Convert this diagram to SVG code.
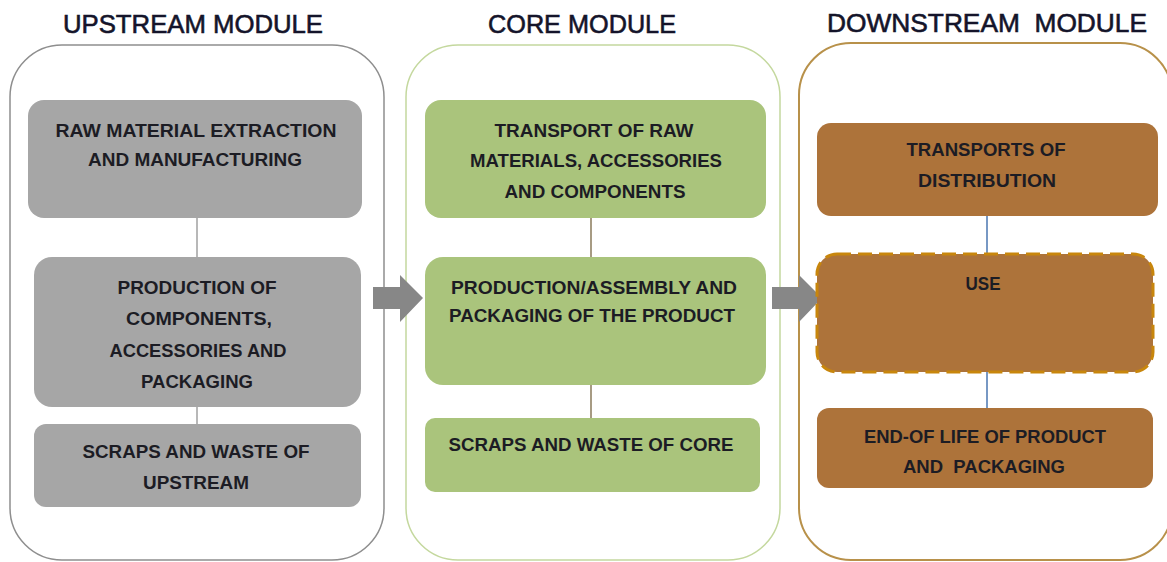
<svg xmlns="http://www.w3.org/2000/svg" width="1167" height="562" viewBox="0 0 1167 562">
<style>
.title{font-family:"Liberation Sans",Arial,sans-serif;font-size:26px;fill:#14142a;stroke:#14142a;stroke-width:0.6;text-anchor:middle}
.t{font-family:"Liberation Sans",Arial,sans-serif;font-size:18px;font-weight:bold;fill:#1c1c24;text-anchor:middle}
.gray{fill:#a6a6a6}
.green{fill:#aac47c}
.brown{fill:#ad733a}
.arrow{fill:#878787}
</style>
<rect width="1167" height="562" fill="#ffffff"/>
<g id="modules">
<rect id="upstream-module" x="10" y="45" width="374" height="515" rx="52" fill="none" stroke="#8e8e8e" stroke-width="1.5"/>
<rect id="core-module" x="406" y="45" width="374" height="515" rx="52" fill="none" stroke="#c4d89e" stroke-width="1.5"/>
<rect id="downstream-module" x="799" y="43" width="373" height="517" rx="52" fill="none" stroke="#b8914a" stroke-width="2"/>
<text class="title" x="193" y="33" textLength="260" lengthAdjust="spacingAndGlyphs">UPSTREAM MODULE</text>
<text class="title" x="582" y="33" textLength="188" lengthAdjust="spacingAndGlyphs">CORE MODULE</text>
<text class="title" x="987" y="32" textLength="320" lengthAdjust="spacingAndGlyphs" xml:space="preserve">DOWNSTREAM  MODULE</text>
</g>
<g id="connectors">
<line x1="197" y1="218" x2="197" y2="257" stroke="#a0a0a0" stroke-width="1.5"/>
<line x1="197" y1="407" x2="197" y2="424" stroke="#a0a0a0" stroke-width="1.5"/>
<line x1="591" y1="218" x2="591" y2="257" stroke="#8a7a5a" stroke-width="1.5"/>
<line x1="591" y1="385" x2="591" y2="418" stroke="#8a7a5a" stroke-width="1.5"/>
<line x1="987" y1="216" x2="987" y2="253" stroke="#4a76b0" stroke-width="1.5"/>
<line x1="987" y1="372" x2="987" y2="408" stroke="#4a76b0" stroke-width="1.5"/>
<polygon class="arrow" points="373,287 400,287 400,275 423,298 400,322 400,309 373,309"/>
<polygon class="arrow" points="772,287 799,287 799,275 822,298 799,322 799,309 772,309"/>
</g>
<g id="raw-material">
<rect class="gray" x="28" y="100" width="334" height="118" rx="16"/>
<text class="t" x="196" y="137" textLength="281" lengthAdjust="spacingAndGlyphs">RAW MATERIAL EXTRACTION</text>
<text class="t" x="195" y="166" textLength="214" lengthAdjust="spacingAndGlyphs">AND MANUFACTURING</text>
</g>
<g id="production-components">
<rect class="gray" x="34" y="257" width="327" height="150" rx="18"/>
<text class="t" x="197" y="294" textLength="159" lengthAdjust="spacingAndGlyphs">PRODUCTION OF</text>
<text class="t" x="199" y="325" textLength="146" lengthAdjust="spacingAndGlyphs">COMPONENTS,</text>
<text class="t" x="198" y="357" textLength="177" lengthAdjust="spacingAndGlyphs">ACCESSORIES AND</text>
<text class="t" x="197" y="388" textLength="112" lengthAdjust="spacingAndGlyphs">PACKAGING</text>
</g>
<g id="scraps-upstream">
<rect class="gray" x="34" y="424" width="327" height="83" rx="12"/>
<text class="t" x="196" y="458" textLength="227" lengthAdjust="spacingAndGlyphs">SCRAPS AND WASTE OF</text>
<text class="t" x="196" y="489" textLength="106" lengthAdjust="spacingAndGlyphs">UPSTREAM</text>
</g>
<g id="transport-raw">
<rect class="green" x="425" y="100" width="341" height="118" rx="16"/>
<text class="t" x="594" y="137" textLength="199" lengthAdjust="spacingAndGlyphs">TRANSPORT OF RAW</text>
<text class="t" x="596" y="167" textLength="252" lengthAdjust="spacingAndGlyphs">MATERIALS, ACCESSORIES</text>
<text class="t" x="595" y="198" textLength="181" lengthAdjust="spacingAndGlyphs">AND COMPONENTS</text>
</g>
<g id="production-assembly">
<rect class="green" x="425" y="257" width="341" height="128" rx="18"/>
<text class="t" x="594" y="294" textLength="286" lengthAdjust="spacingAndGlyphs">PRODUCTION/ASSEMBLY AND</text>
<text class="t" x="592" y="322" textLength="286" lengthAdjust="spacingAndGlyphs">PACKAGING OF THE PRODUCT</text>
</g>
<g id="scraps-core">
<rect class="green" x="425" y="418" width="335" height="74" rx="10"/>
<text class="t" x="591" y="451" textLength="285" lengthAdjust="spacingAndGlyphs">SCRAPS AND WASTE OF CORE</text>
</g>
<g id="transports-distribution">
<rect class="brown" x="817" y="123" width="341" height="93" rx="14"/>
<text class="t" x="986" y="156" textLength="159" lengthAdjust="spacingAndGlyphs">TRANSPORTS OF</text>
<text class="t" x="987" y="187" textLength="138" lengthAdjust="spacingAndGlyphs">DISTRIBUTION</text>
</g>
<g id="use">
<rect class="brown" x="817" y="254" width="336" height="118" rx="20" stroke="#c8860c" stroke-width="3" stroke-dasharray="14 7"/>
<text class="t" x="983" y="290" textLength="35" lengthAdjust="spacingAndGlyphs">USE</text>
</g>
<g id="end-of-life">
<rect class="brown" x="817" y="408" width="336" height="80" rx="12"/>
<text class="t" x="985" y="443" textLength="242" lengthAdjust="spacingAndGlyphs">END-OF LIFE OF PRODUCT</text>
<text class="t" x="984" y="473" textLength="162" lengthAdjust="spacingAndGlyphs" xml:space="preserve">AND  PACKAGING</text>
</g>
</svg>
